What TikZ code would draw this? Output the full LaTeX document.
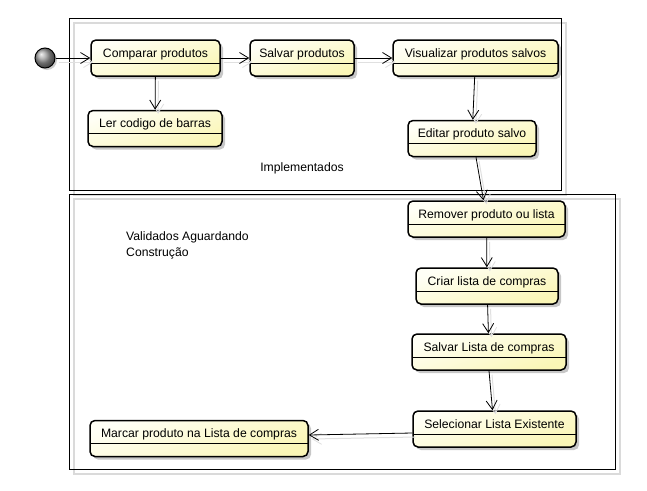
\documentclass[tikz,border=0pt]{standalone}
\usepackage{fontspec}
\setmainfont{Liberation Sans}
\usetikzlibrary{arrows.meta,shadows,calc}
\definecolor{boxtop}{RGB}{255,255,246}
\definecolor{boxbot}{RGB}{250,246,182}
\definecolor{frameshadow}{RGB}{218,218,218}
\begin{document}
\begin{tikzpicture}[x=1pt,y=-1pt,
  font=\fontsize{12.2}{16}\selectfont,
  act/.style={draw=black, line width=1.5pt, rounded corners=5pt,
    top color=boxtop, bottom color=boxbot, shading angle=20,
    minimum height=36pt, text height=17pt, text depth=19pt,
    inner ysep=0pt, inner xsep=0pt,
    drop shadow={shadow xshift=3pt, shadow yshift=-3pt, fill=black, opacity=0.22},
    path picture={\draw[line width=0.9pt] ([yshift=-23pt]path picture bounding box.north west) -- ([yshift=-23pt]path picture bounding box.north east);}},
  initial/.style={circle, draw=black, line width=1pt, minimum size=20pt, inner sep=0pt,
    ball color=black!38,
    drop shadow={shadow xshift=2pt, shadow yshift=-2pt, fill=black, opacity=0.2}},
  flow/.style={draw=black, line width=0.8pt, -{Straight Barb[length=9pt,width=11pt,line width=0.8pt]},
    preaction={draw=black!12, line width=1pt, transform canvas={shift={(3pt,-4pt)}}}},
  frame/.style={draw=black, line width=1pt},
  frameshade/.style={draw=frameshadow, line width=1.2pt},
  lbl/.style={inner sep=0pt}
]
\useasboundingbox (0,0) rectangle (647,490);
\fill[white] (0,0) rectangle (647,490);

% frames
\draw[frameshade] (74,23) rectangle (566,195);
\draw[frameshade] (74,199) rectangle (620,474);
\draw[frame] (69,18) rectangle (561,190);
\draw[frame] (69,194) rectangle (615,469);

% frame labels
\node[lbl, anchor=base] (impl) at (302,171) {Implementados};
\node[lbl, anchor=north west, align=left] (valid) at (126,231) {Validados Aguardando\\Construção};

% nodes
\node[initial] (start) at (45,58) {};
\node[act, minimum width=129pt] (cmp) at (155.5,58) {Comparar produtos};
\node[act, minimum width=104pt] (salv) at (302,58) {Salvar produtos};
\node[act, minimum width=165pt] (vis) at (475.5,58) {Visualizar produtos salvos};
\node[act, minimum width=134pt] (ler) at (155,128.5) {Ler codigo de barras};
\node[act, minimum width=128pt] (edit) at (472,138.5) {Editar produto salvo};
\node[act, minimum width=157pt] (rem) at (486.5,219) {Remover produto ou lista};
\node[act, minimum width=142pt] (criar) at (487,286) {Criar lista de compras};
\node[act, minimum width=154pt] (sl) at (489,352) {Salvar Lista de compras};
\node[act, minimum width=163pt] (sel) at (494.5,429) {Selecionar Lista Existente};
\node[act, minimum width=218pt] (marc) at (199,438.5) {Marcar produto na Lista de compras};

% connectors
\draw[flow] (start) -- (cmp);
\draw[flow] (cmp) -- (salv);
\draw[flow] (salv) -- (vis);
\draw[flow] (cmp) -- (ler);
\draw[flow] (vis) -- (edit);
\draw[flow] ([xshift=4pt]edit.south) -- ([xshift=-3pt]rem.north);
\draw[flow] (rem) -- (criar);
\draw[flow] (criar) -- (sl);
\draw[flow] (sl.south) -- ([xshift=-2pt]sel.north);
\draw[flow] ([yshift=-4pt]sel.west) -- ([yshift=3.5pt]marc.east);
\end{tikzpicture}
\end{document}
